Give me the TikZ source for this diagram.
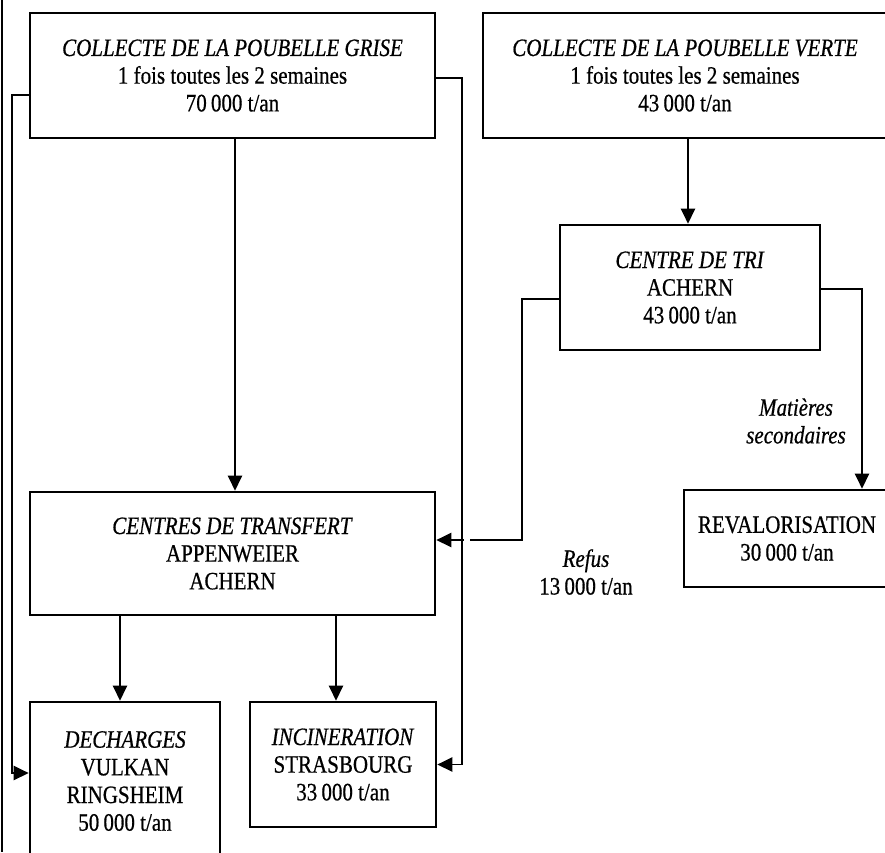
\documentclass[tikz,border=0pt]{standalone}
\usepackage{fontspec}
\setmainfont{Liberation Serif}[FakeStretch=0.84, FakeBold=0.6]
\usetikzlibrary{arrows.meta}

\begin{document}
\begin{tikzpicture}[x=0.6pt, y=-0.6pt,
        box/.style={draw, line width=1.6pt, align=center, inner sep=0pt,
                font=\fontsize{15}{16.6}\selectfont},
        flow/.style={line width=1.1pt, -{Triangle[length=9pt, width=8.5pt]}},
        lbl/.style={align=center, font=\fontsize{15}{16.6}\selectfont}]
        \useasboundingbox (0,0) rectangle (885,852);
        % page border on the left
        \draw[line width=1.1pt] (2,0) -- (2,852);
        \node[box, minimum width=405*0.6pt, minimum height=125*0.6pt] (grise) at (232.5,75.5)
                {\textit{COLLECTE DE LA POUBELLE GRISE}\\1 fois toutes les 2 semaines\\70\,000 t/an};
        \node[box, minimum width=404*0.6pt, minimum height=125*0.6pt] (verte) at (685,75.5)
                {\textit{COLLECTE DE LA POUBELLE VERTE}\\1 fois toutes les 2 semaines\\43\,000 t/an};
        \node[box, minimum width=260*0.6pt, minimum height=125*0.6pt] (tri) at (690,287.5)
                {\textit{CENTRE DE TRI}\\ACHERN\\43\,000 t/an};
        \node[box, minimum width=206*0.6pt, minimum height=97*0.6pt] (reval) at (787,538.5)
                {REVALORISATION\\30\,000 t/an};
        \node[box, minimum width=405*0.6pt, minimum height=123*0.6pt] (transfert) at (232.5,553.5)
                {\textit{CENTRES DE TRANSFERT}\\APPENWEIER\\ACHERN};
        \node[box, minimum width=190*0.6pt, minimum height=158*0.6pt] (decharges) at (125,781)
                {\textit{DECHARGES}\\VULKAN\\RINGSHEIM\\50\,000 t/an};
        \node[box, minimum width=186*0.6pt, minimum height=125*0.6pt] (incin) at (343,764.5)
                {\textit{INCINERATION}\\STRASBOURG\\33\,000 t/an};
        \node[lbl] (matieres) at (796,421) {\textit{Matières}\\\textit{secondaires}};
        \node[lbl] (refus) at (586,572) {\textit{Refus}\\13\,000 t/an};
        \coordinate (gl) at (12,95);
        \coordinate (dl) at (12,773);
        \coordinate (gr) at (462,78);
        \coordinate (rf) at (522,540);
        % connectors
        \draw[flow] (grise.south -| 235,0) -- (transfert.north -| 235,0);
        \draw[flow] (grise.west |- gl) -- (gl) -- (dl) -- (decharges.west |- dl);
        \draw[flow] (tri.west |- 0,299) -| (rf) -- (transfert.east |- rf);
        % gap where the refus line crosses
        \draw[white, line width=3pt] (464,540) -- (470,540);
        \draw[flow] (grise.east |- gr) -- (gr) |- (incin.east);
        \draw[flow] (verte.south -| 688,0) -- (tri.north -| 688,0);
        \draw[flow] (tri.east |- 0,289) -| (reval.north -| 862,0);
        \draw[flow] (transfert.south -| 120,0) -- (decharges.north -| 120,0);
        \draw[flow] (transfert.south -| 336,0) -- (incin.north -| 336,0);
\end{tikzpicture}
\end{document}
